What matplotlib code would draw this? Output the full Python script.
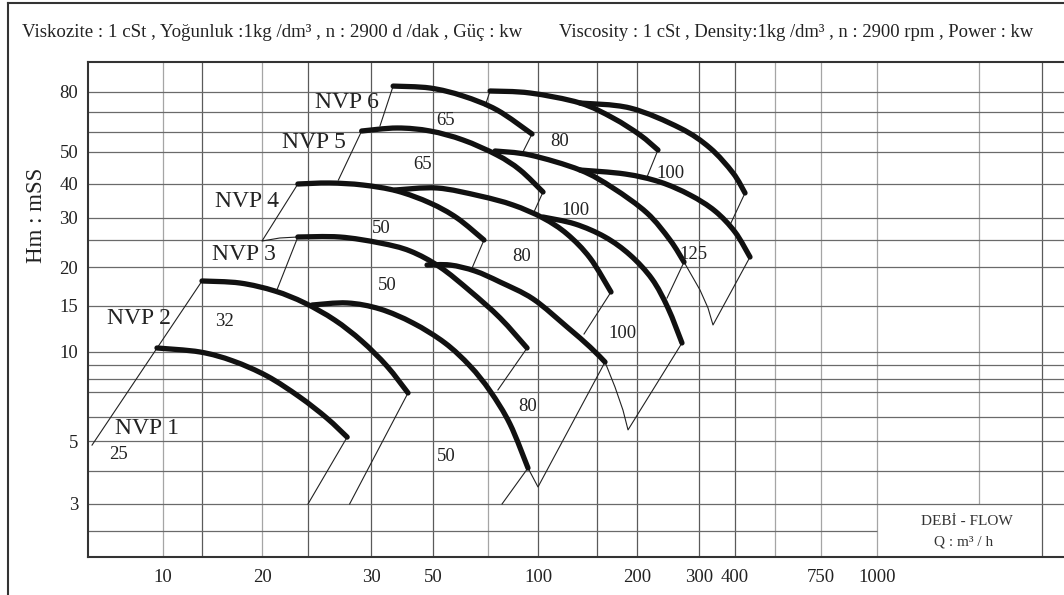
"""NVP pump family: head vs flow chart (2900 rpm), redrawn from the catalogue sheet."""
import numpy as np
import matplotlib; matplotlib.use("Agg")
import matplotlib.pyplot as plt
from matplotlib.path import Path
from matplotlib.patches import PathPatch

plt.rcParams["font.family"] = ["Liberation Serif", "DejaVu Serif"]

# the catalogue axes are hand drawn (not a true log scale) -> grid knots of each axis
Q_KNOTS = [5, 10, 15, 20, 25, 30, 50, 75, 100, 150, 200, 300, 400, 500, 750, 1000, 1500, 2000, 2200]
Q_POS   = [88, 163, 202, 262, 308, 371, 433, 488, 538, 597, 637, 699, 735, 775, 821, 877, 979, 1042, 1064]
H_KNOTS = [2, 2.5, 3, 4, 5, 6, 7, 8, 9, 10, 15, 20, 25, 30, 40, 50, 60, 70, 80, 100]
H_POS   = [557, 531, 504, 471, 441, 417, 392, 379, 365, 352, 306, 267, 240, 218, 184, 152, 132, 112, 92, 62]

X_TICKS = [10, 20, 30, 50, 100, 200, 300, 400, 750, 1000]
Y_TICKS = [3, 5, 10, 15, 20, 30, 40, 50, 80]
VGRID_DARK  = [15, 25, 30, 50, 100, 150, 200, 300, 400, 2000]
VGRID_LIGHT = [10, 20, 75, 500, 750, 1000]
HGRID = [3, 4, 5, 6, 7, 8, 9, 10, 15, 20, 25, 30, 40, 50, 60, 70, 80]

# thick head curves  (Q m3/h, H m)
Q_A = [9.46, 14.7, 17.4, 20.5, 24.0, 26.4, 28.0]            # NVP 1
H_A = [10.36, 10.0, 9.30, 8.20, 6.79, 5.95, 5.15]
Q_B = [15.0, 18.0, 21.3, 24.6, 27.0, 29.2, 34.2, 40.7]      # NVP 2
H_B = [18.04, 17.77, 16.75, 15.34, 13.26, 11.02, 8.92, 6.96]
Q_C = [25.3, 28.0, 32.3, 42.4, 54.6, 65.7, 75.9, 85.1, 94.4]
H_C = [15.11, 15.34, 14.61, 12.91, 10.83, 8.92, 7.07, 5.69, 4.09]
Q_D = [23.8, 27.4, 32.3, 41.4, 52.6, 65.7, 80.4, 93.9]      # NVP 3
H_D = [25.63, 25.63, 24.39, 22.83, 20.0, 16.75, 13.50, 10.36]
Q_E = [47.6, 56.7, 68.1, 80.4, 97.2, 122.1, 143.0, 158.9]
H_E = [20.33, 20.33, 19.42, 17.90, 15.8, 12.47, 10.45, 9.22]
Q_F = [23.8, 26.6, 29.3, 37.2, 48.8, 59.7, 72.8]            # NVP 4
H_F = [40.0, 40.28, 39.66, 37.70, 34.06, 30.0, 25.0]
Q_G = [36.6, 51.5, 70.7, 86.6, 103.5, 122.1, 143.0, 165.9]
H_G = [38.02, 38.67, 36.14, 33.49, 30.0, 26.27, 21.54, 16.63]
Q_H = [103.5, 129.0, 158.9, 190.2, 220.6, 244.9, 268.4]
H_H = [30.25, 28.55, 25.63, 22.09, 18.31, 14.74, 10.83]
Q_I = [29.2, 37.2, 48.8, 62.4, 79.0, 90.2, 103.5]           # NVP 5
H_I = [60.46, 61.88, 60.46, 55.78, 48.96, 44.10, 37.38]
Q_J = [78.1, 95.5, 133.5, 168.3, 213.5, 248.2, 272.0]
H_J = [50.46, 48.96, 44.10, 38.67, 31.30, 25.0, 20.84]
Q_K = [133.5, 183.5, 232.5, 282.9, 340.9, 400.0, 434.9]
H_K = [44.10, 42.89, 40.56, 36.45, 31.83, 26.71, 21.72]
Q_L = [36.0, 48.8, 62.4, 79.0, 96.6]                         # NVP 6
H_L = [83.6, 82.4, 77.89, 70.94, 58.92]
Q_M = [75.9, 95.5, 133.5, 168.3, 204.0, 229.4]
H_M = [80.6, 79.47, 74.33, 66.84, 58.38, 50.92]
Q_N = [133.5, 190.2, 264.9, 327.6, 393.7, 423.0]
H_N = [74.33, 71.90, 61.88, 51.86, 43.19, 37.07]

# thin leader / bracket lines
THIN_Q = [[5.19, 15.0], [28.0, 25.0], [40.7, 28.2], [94.4, 81.3], [94.4, 100, 158.9],
          [93.9, 79.4], [158.9, 170.7, 180.8, 187.5, 268.4], [72.8, 66.7], [165.9, 137.2],
          [23.8, 21.5], [23.8, 20.0, 21.8, 23.8], [29.2, 27.3], [36.0, 32.3], [75.9, 73.4],
          [103.5, 97.2], [96.6, 91.7], [229.4, 213.5], [423.0, 384.3], [272.0, 243.4],
          [272.0, 302.4, 322.4, 335.5, 434.9]]
THIN_H = [[4.85, 18.04], [5.15, 3.0], [6.96, 3.0], [4.09, 3.0], [4.09, 3.48, 9.22],
          [10.36, 7.15], [9.22, 7.37, 6.26, 5.44, 10.83], [25.0, 19.85], [16.63, 11.72],
          [25.63, 16.88], [40.0, 24.79, 25.42, 25.63], [60.46, 41.13], [83.6, 62.84], [80.6, 72.86],
          [37.38, 31.03], [58.92, 50.0], [50.92, 42.0], [37.07, 28.31], [20.84, 15.91],
          [20.84, 16.88, 14.74, 12.69, 21.72]]

NVP_NAMES = ["NVP 1", "NVP 2", "NVP 3", "NVP 4", "NVP 5", "NVP 6"]
NVP_Q = [8.63, 8.01, 18.35, 18.6, 25.4, 28.0]
NVP_H = [5.48, 13.38, 22.09, 34.35, 54.77, 74.83]
DN_NAMES = ["25", "32", "50", "50", "50", "80", "65", "65", "80", "100", "100", "125", "100", "80"]
DN_Q = [6.60, 16.67, 32.6, 34.2, 55.0, 91.2, 55.0, 45.7, 116.3, 248.2, 129.8, 290, 179.6, 94.4]
DN_H = [4.51, 13.03, 27.6, 17.39, 4.47, 21.9, 65.8, 45.67, 55.27, 42.89, 32.1, 22.09, 11.72, 6.42]


def q_fwd(q):
    return np.interp(np.log10(np.clip(np.asarray(q, float), 1e-6, None)), np.log10(Q_KNOTS), Q_POS)

def q_inv(p):
    return 10 ** np.interp(np.asarray(p, float), Q_POS, np.log10(Q_KNOTS))

def h_fwd(h):
    return -np.interp(np.log10(np.clip(np.asarray(h, float), 1e-6, None)), np.log10(H_KNOTS), H_POS)

def h_inv(p):
    return 10 ** np.interp(np.asarray(p, float), -np.array(H_POS, float), np.log10(H_KNOTS))

def smooth_path(q, h):
    # bezier through the read points (control points built on the chart's own scale)
    pts = np.column_stack([q_fwd(q), h_fwd(h)])
    n = len(pts)
    verts, codes = [pts[0]], [Path.MOVETO]
    for i in range(n - 1):
        p0, p1, p2, p3 = pts[max(i-1, 0)], pts[i], pts[i+1], pts[min(i+2, n-1)]
        verts += [p1 + (p2 - p0) / 6, p2 - (p3 - p1) / 6, p2]
        codes += [Path.CURVE4] * 3
    verts = np.array(verts)
    return Path(np.column_stack([q_inv(verts[:, 0]), h_inv(verts[:, 1])]), codes)


W, Hpx = 1064, 595
fig = plt.figure(figsize=(W/100, Hpx/100), dpi=100)
ax = fig.add_axes([88/W, 1-557/Hpx, (W-88)/W, (557-62)/Hpx])
ax.set_xscale("function", functions=(q_fwd, q_inv))
ax.set_yscale("function", functions=(h_fwd, h_inv))
ax.set_xlim(5, 2200); ax.set_ylim(2, 100)

# grid
ax.vlines(VGRID_DARK, 2, 100, color="#5a5a5a", lw=0.9, zorder=1)
ax.vlines(VGRID_LIGHT, 2, 100, color="#a5a5a5", lw=0.9, zorder=1)
ax.vlines(1500, 3, 100, color="#a5a5a5", lw=0.9, zorder=1)
ax.hlines(HGRID, 5, 2200, color="#6a6a6a", lw=0.9, zorder=1)
ax.hlines(2.5, 5, 1000, color="#6a6a6a", lw=0.9, zorder=1)

for q, h in zip(THIN_Q, THIN_H):
    ax.plot(q, h, color="#222", lw=0.8, zorder=2)
for q, h in [(Q_A, H_A), (Q_B, H_B), (Q_C, H_C), (Q_D, H_D), (Q_E, H_E), (Q_F, H_F), (Q_G, H_G),
             (Q_H, H_H), (Q_I, H_I), (Q_J, H_J), (Q_K, H_K), (Q_L, H_L), (Q_M, H_M), (Q_N, H_N)]:
    ax.add_patch(PathPatch(smooth_path(q, h), fill=False, edgecolor="#111", lw=3.8,
                           capstyle="round", joinstyle="round", zorder=3))

for s, q, h in zip(NVP_NAMES, NVP_Q, NVP_H):
    ax.text(q, h, s, fontsize=17, ha="center", va="center", color="#222", zorder=4)
for s, q, h in zip(DN_NAMES, DN_Q, DN_H):
    ax.text(q, h, s, fontsize=13.5, ha="center", va="center", color="#222", zorder=4)
ax.text(1430, 2.66, "DEBİ - FLOW", fontsize=11, ha="center", va="center", color="#333")
ax.text(1413, 2.27, "Q : m³ / h", fontsize=11, ha="center", va="center", color="#333")

ax.set_xticks(X_TICKS, [str(v) for v in X_TICKS])
ax.set_yticks(Y_TICKS, [str(v) for v in Y_TICKS])
ax.minorticks_off()
ax.tick_params(length=0, labelsize=13.5, colors="#222")
ax.tick_params(axis="x", pad=9)
ax.tick_params(axis="y", pad=7)
for side in ("left", "bottom", "top"):
    ax.spines[side].set_color("#333"); ax.spines[side].set_linewidth(1.5)
ax.spines["right"].set_visible(False)

fig.text(37/W, 1-215/Hpx, "Hm : mSS", rotation=90, fontsize=16.5, ha="center", va="center", color="#222")
fig.text(22/W, 1-37/Hpx, "Viskozite : 1 cSt , Yoğunluk :1kg /dm³ , n : 2900 d /dak , Güç : kw",
         fontsize=13.6, ha="left", va="baseline", color="#222")
fig.text(559/W, 1-37/Hpx, "Viscosity : 1 cSt , Density:1kg /dm³ , n : 2900 rpm , Power : kw",
         fontsize=13.4, ha="left", va="baseline", color="#222")
# sheet border
fig.add_artist(plt.Line2D([8/W, 8/W], [0, 1-3/Hpx], transform=fig.transFigure, color="#333", lw=1.5))
fig.add_artist(plt.Line2D([8/W, 1], [1-3/Hpx, 1-3/Hpx], transform=fig.transFigure, color="#333", lw=1.5))

fig.savefig("out.png", dpi=100)
